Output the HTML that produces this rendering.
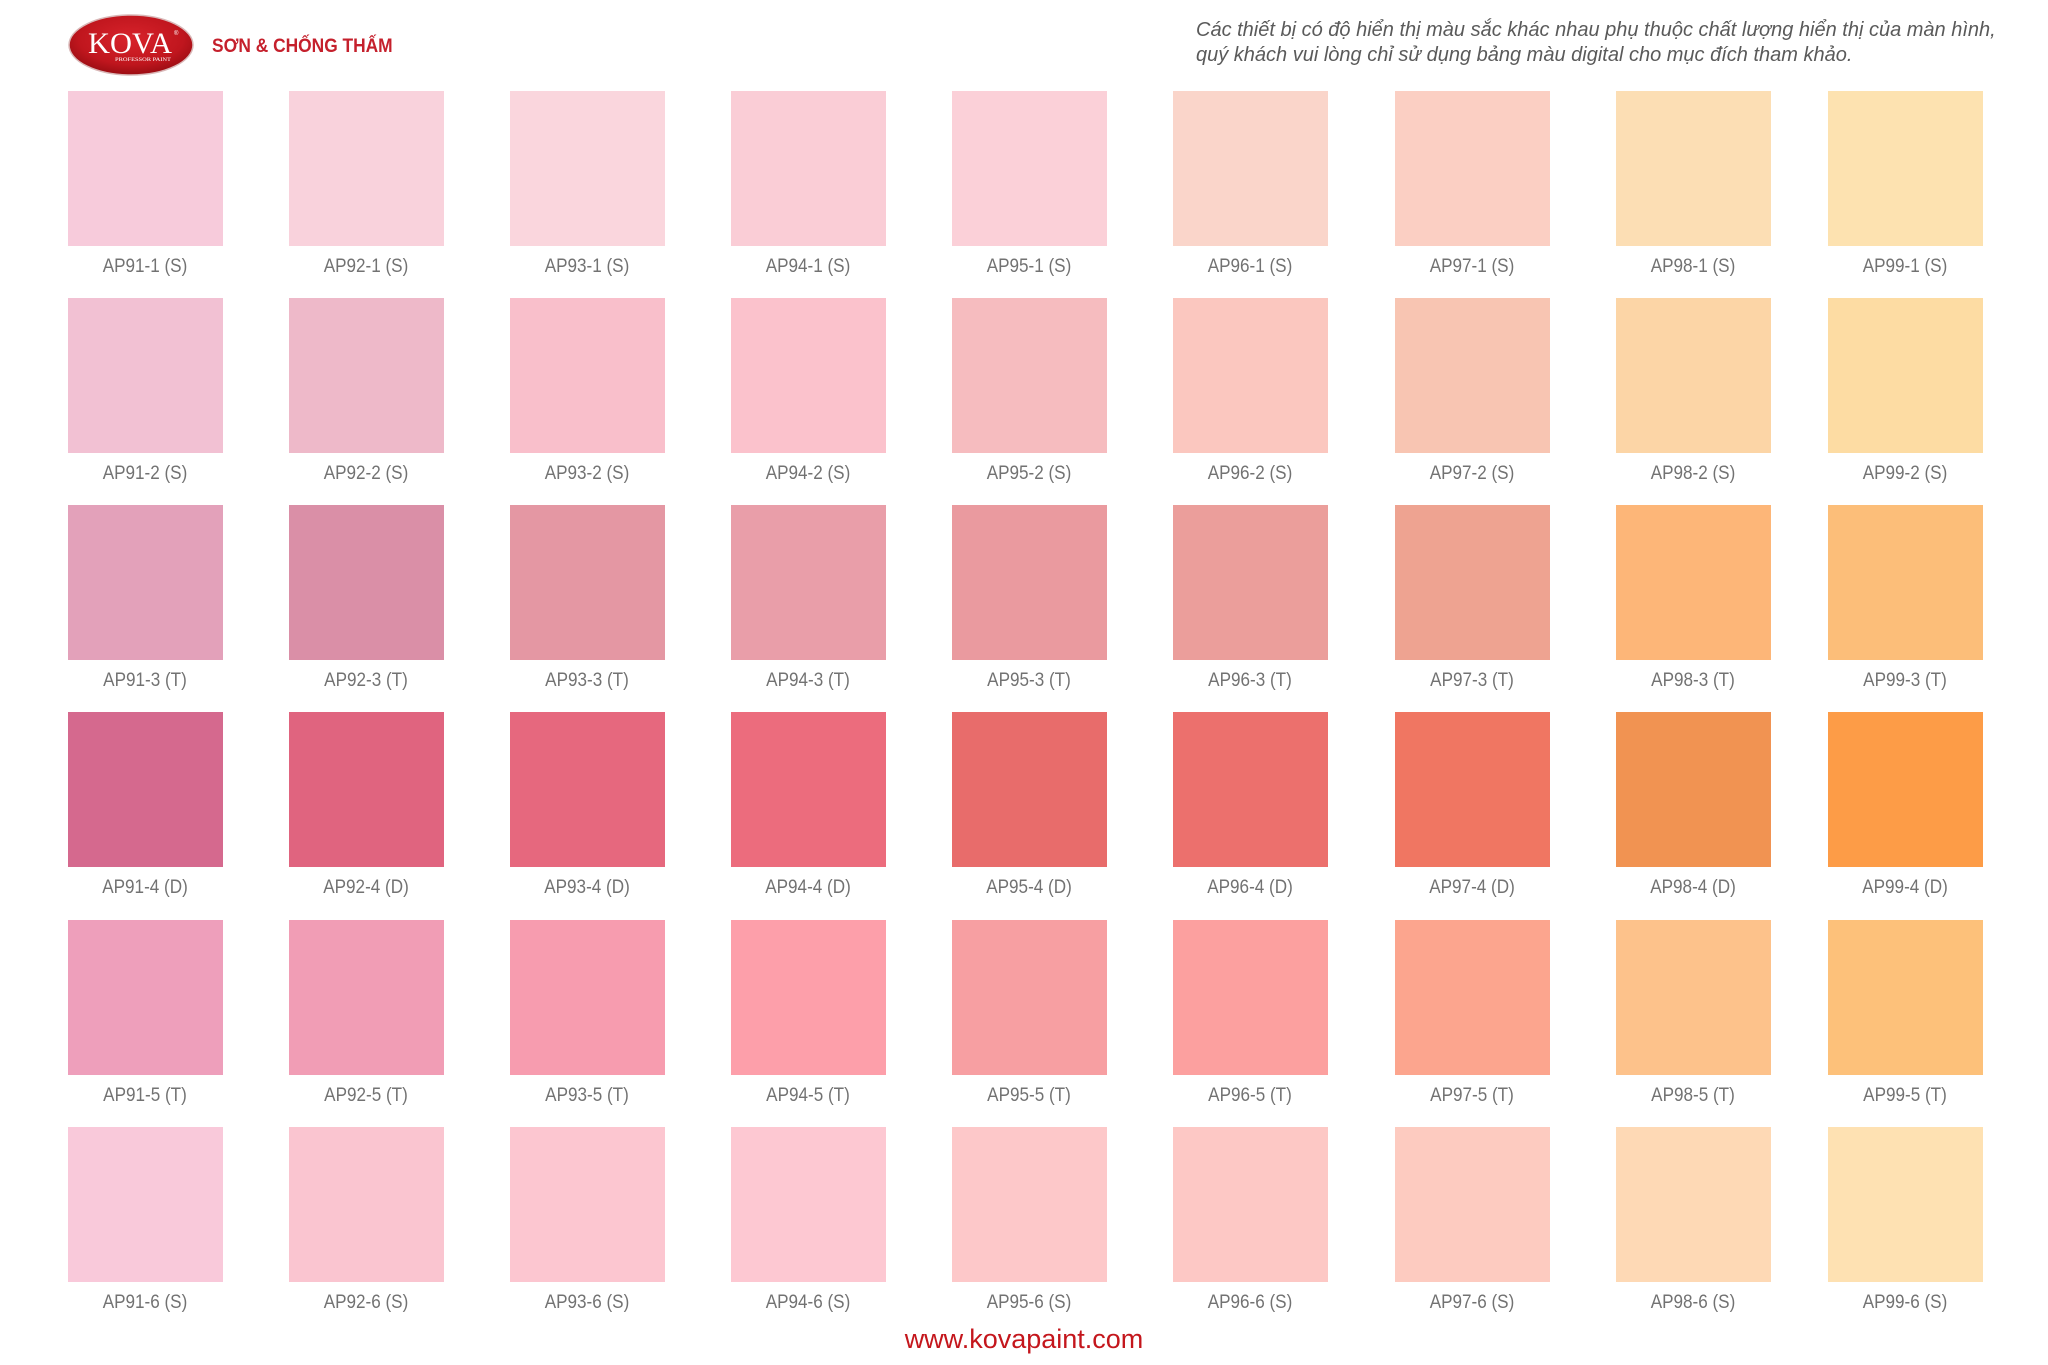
<!DOCTYPE html>
<html>
<head>
<meta charset="utf-8">
<style>
html,body{margin:0;padding:0;background:#fff;}
body{width:2048px;height:1365px;position:relative;overflow:hidden;font-family:"Liberation Sans",Arial,sans-serif;}
.s{position:absolute;width:155px;height:155px;}
.l{position:absolute;width:200px;text-align:center;font-size:19px;line-height:19px;color:#727272;transform:scaleX(0.9);white-space:nowrap;}
.note{position:absolute;left:1196px;top:18px;font-size:20px;line-height:25px;font-style:italic;color:#5a5a5a;white-space:nowrap;}
.url{position:absolute;left:774px;width:500px;top:1327px;text-align:center;font-size:27px;line-height:25px;color:#c4161c;}
.brand{position:absolute;left:212px;top:35px;font-size:19.5px;line-height:22px;font-weight:bold;color:#c5202c;white-space:nowrap;transform:scaleX(0.89);transform-origin:0 0;}
</style>
</head>
<body>
<svg style="position:absolute;left:0;top:0" width="260" height="90">
<defs>
<radialGradient id="g" cx="50%" cy="40%" r="60%">
<stop offset="0" stop-color="#d8232b"/>
<stop offset="0.7" stop-color="#c0161e"/>
<stop offset="1" stop-color="#9a0d13"/>
</radialGradient>
</defs>
<ellipse cx="131" cy="45" rx="62" ry="30" fill="url(#g)" stroke="#d9b8b8" stroke-width="1.5"/>
<text x="130" y="53" text-anchor="middle" font-family="Liberation Serif, serif" font-size="30" fill="#fff" textLength="84" lengthAdjust="spacingAndGlyphs">KOVA</text>
<text x="174" y="35" font-family="Liberation Sans, sans-serif" font-size="6" fill="#fff">®</text>
<text x="143" y="61" text-anchor="middle" font-family="Liberation Serif, serif" font-size="5.5" fill="#fff" textLength="56" lengthAdjust="spacingAndGlyphs">PROFESSOR PAINT</text>
</svg>
<div class="brand">SƠN &amp; CHỐNG THẤM</div>
<div class="note">Các thiết bị có độ hiển thị màu sắc khác nhau phụ thuộc chất lượng hiển thị của màn hình,<br>quý khách vui lòng chỉ sử dụng bảng màu digital cho mục đích tham khảo.</div>

<!-- Row 1 -->
<div class="s" style="left:68px;top:91px;background:#f7cbdb"></div>
<div class="s" style="left:289px;top:91px;background:#f9d2dc"></div>
<div class="s" style="left:510px;top:91px;background:#fad6dd"></div>
<div class="s" style="left:731px;top:91px;background:#facdd6"></div>
<div class="s" style="left:952px;top:91px;background:#fbd0d8"></div>
<div class="s" style="left:1173px;top:91px;background:#fad5ca"></div>
<div class="s" style="left:1395px;top:91px;background:#fbcfc3"></div>
<div class="s" style="left:1616px;top:91px;background:#fcdeb4"></div>
<div class="s" style="left:1828px;top:91px;background:#fde2b0"></div>
<div class="l" style="left:45px;top:257px">AP91-1 (S)</div>
<div class="l" style="left:266px;top:257px">AP92-1 (S)</div>
<div class="l" style="left:487px;top:257px">AP93-1 (S)</div>
<div class="l" style="left:708px;top:257px">AP94-1 (S)</div>
<div class="l" style="left:929px;top:257px">AP95-1 (S)</div>
<div class="l" style="left:1150px;top:257px">AP96-1 (S)</div>
<div class="l" style="left:1372px;top:257px">AP97-1 (S)</div>
<div class="l" style="left:1593px;top:257px">AP98-1 (S)</div>
<div class="l" style="left:1805px;top:257px">AP99-1 (S)</div>

<!-- Row 2 -->
<div class="s" style="left:68px;top:298px;background:#f2c1d3"></div>
<div class="s" style="left:289px;top:298px;background:#eeb9c9"></div>
<div class="s" style="left:510px;top:298px;background:#f9bfcb"></div>
<div class="s" style="left:731px;top:298px;background:#fbc2cc"></div>
<div class="s" style="left:952px;top:298px;background:#f6bcbf"></div>
<div class="s" style="left:1173px;top:298px;background:#fbc7bf"></div>
<div class="s" style="left:1395px;top:298px;background:#f8c5b2"></div>
<div class="s" style="left:1616px;top:298px;background:#fcd5a6"></div>
<div class="s" style="left:1828px;top:298px;background:#fddca3"></div>
<div class="l" style="left:45px;top:464px">AP91-2 (S)</div>
<div class="l" style="left:266px;top:464px">AP92-2 (S)</div>
<div class="l" style="left:487px;top:464px">AP93-2 (S)</div>
<div class="l" style="left:708px;top:464px">AP94-2 (S)</div>
<div class="l" style="left:929px;top:464px">AP95-2 (S)</div>
<div class="l" style="left:1150px;top:464px">AP96-2 (S)</div>
<div class="l" style="left:1372px;top:464px">AP97-2 (S)</div>
<div class="l" style="left:1593px;top:464px">AP98-2 (S)</div>
<div class="l" style="left:1805px;top:464px">AP99-2 (S)</div>

<!-- Row 3 -->
<div class="s" style="left:68px;top:505px;background:#e3a1ba"></div>
<div class="s" style="left:289px;top:505px;background:#da8fa7"></div>
<div class="s" style="left:510px;top:505px;background:#e497a3"></div>
<div class="s" style="left:731px;top:505px;background:#e99ea9"></div>
<div class="s" style="left:952px;top:505px;background:#ea9a9f"></div>
<div class="s" style="left:1173px;top:505px;background:#eb9e9b"></div>
<div class="s" style="left:1395px;top:505px;background:#eea391"></div>
<div class="s" style="left:1616px;top:505px;background:#fdb678"></div>
<div class="s" style="left:1828px;top:505px;background:#fcbe79"></div>
<div class="l" style="left:45px;top:671px">AP91-3 (T)</div>
<div class="l" style="left:266px;top:671px">AP92-3 (T)</div>
<div class="l" style="left:487px;top:671px">AP93-3 (T)</div>
<div class="l" style="left:708px;top:671px">AP94-3 (T)</div>
<div class="l" style="left:929px;top:671px">AP95-3 (T)</div>
<div class="l" style="left:1150px;top:671px">AP96-3 (T)</div>
<div class="l" style="left:1372px;top:671px">AP97-3 (T)</div>
<div class="l" style="left:1593px;top:671px">AP98-3 (T)</div>
<div class="l" style="left:1805px;top:671px">AP99-3 (T)</div>

<!-- Row 4 -->
<div class="s" style="left:68px;top:712px;background:#d5698e"></div>
<div class="s" style="left:289px;top:712px;background:#e0647f"></div>
<div class="s" style="left:510px;top:712px;background:#e6687e"></div>
<div class="s" style="left:731px;top:712px;background:#ec6c7d"></div>
<div class="s" style="left:952px;top:712px;background:#e86c6b"></div>
<div class="s" style="left:1173px;top:712px;background:#ec706d"></div>
<div class="s" style="left:1395px;top:712px;background:#f07662"></div>
<div class="s" style="left:1616px;top:712px;background:#f19352"></div>
<div class="s" style="left:1828px;top:712px;background:#fd9c47"></div>
<div class="l" style="left:45px;top:878px">AP91-4 (D)</div>
<div class="l" style="left:266px;top:878px">AP92-4 (D)</div>
<div class="l" style="left:487px;top:878px">AP93-4 (D)</div>
<div class="l" style="left:708px;top:878px">AP94-4 (D)</div>
<div class="l" style="left:929px;top:878px">AP95-4 (D)</div>
<div class="l" style="left:1150px;top:878px">AP96-4 (D)</div>
<div class="l" style="left:1372px;top:878px">AP97-4 (D)</div>
<div class="l" style="left:1593px;top:878px">AP98-4 (D)</div>
<div class="l" style="left:1805px;top:878px">AP99-4 (D)</div>

<!-- Row 5 -->
<div class="s" style="left:68px;top:920px;background:#ee9fbb"></div>
<div class="s" style="left:289px;top:920px;background:#f19db5"></div>
<div class="s" style="left:510px;top:920px;background:#f79caf"></div>
<div class="s" style="left:731px;top:920px;background:#fd9faa"></div>
<div class="s" style="left:952px;top:920px;background:#f79fa2"></div>
<div class="s" style="left:1173px;top:920px;background:#fca09f"></div>
<div class="s" style="left:1395px;top:920px;background:#fca58e"></div>
<div class="s" style="left:1616px;top:920px;background:#fdc28b"></div>
<div class="s" style="left:1828px;top:920px;background:#fdc17a"></div>
<div class="l" style="left:45px;top:1086px">AP91-5 (T)</div>
<div class="l" style="left:266px;top:1086px">AP92-5 (T)</div>
<div class="l" style="left:487px;top:1086px">AP93-5 (T)</div>
<div class="l" style="left:708px;top:1086px">AP94-5 (T)</div>
<div class="l" style="left:929px;top:1086px">AP95-5 (T)</div>
<div class="l" style="left:1150px;top:1086px">AP96-5 (T)</div>
<div class="l" style="left:1372px;top:1086px">AP97-5 (T)</div>
<div class="l" style="left:1593px;top:1086px">AP98-5 (T)</div>
<div class="l" style="left:1805px;top:1086px">AP99-5 (T)</div>

<!-- Row 6 -->
<div class="s" style="left:68px;top:1127px;background:#f9c9da"></div>
<div class="s" style="left:289px;top:1127px;background:#fac5d0"></div>
<div class="s" style="left:510px;top:1127px;background:#fcc6d0"></div>
<div class="s" style="left:731px;top:1127px;background:#fdc8d2"></div>
<div class="s" style="left:952px;top:1127px;background:#fdc8c9"></div>
<div class="s" style="left:1173px;top:1127px;background:#fdc8c5"></div>
<div class="s" style="left:1395px;top:1127px;background:#fdcbc0"></div>
<div class="s" style="left:1616px;top:1127px;background:#fed9b5"></div>
<div class="s" style="left:1828px;top:1127px;background:#fee1b2"></div>
<div class="l" style="left:45px;top:1293px">AP91-6 (S)</div>
<div class="l" style="left:266px;top:1293px">AP92-6 (S)</div>
<div class="l" style="left:487px;top:1293px">AP93-6 (S)</div>
<div class="l" style="left:708px;top:1293px">AP94-6 (S)</div>
<div class="l" style="left:929px;top:1293px">AP95-6 (S)</div>
<div class="l" style="left:1150px;top:1293px">AP96-6 (S)</div>
<div class="l" style="left:1372px;top:1293px">AP97-6 (S)</div>
<div class="l" style="left:1593px;top:1293px">AP98-6 (S)</div>
<div class="l" style="left:1805px;top:1293px">AP99-6 (S)</div>

<div class="url">www.kovapaint.com</div>
</body>
</html>
